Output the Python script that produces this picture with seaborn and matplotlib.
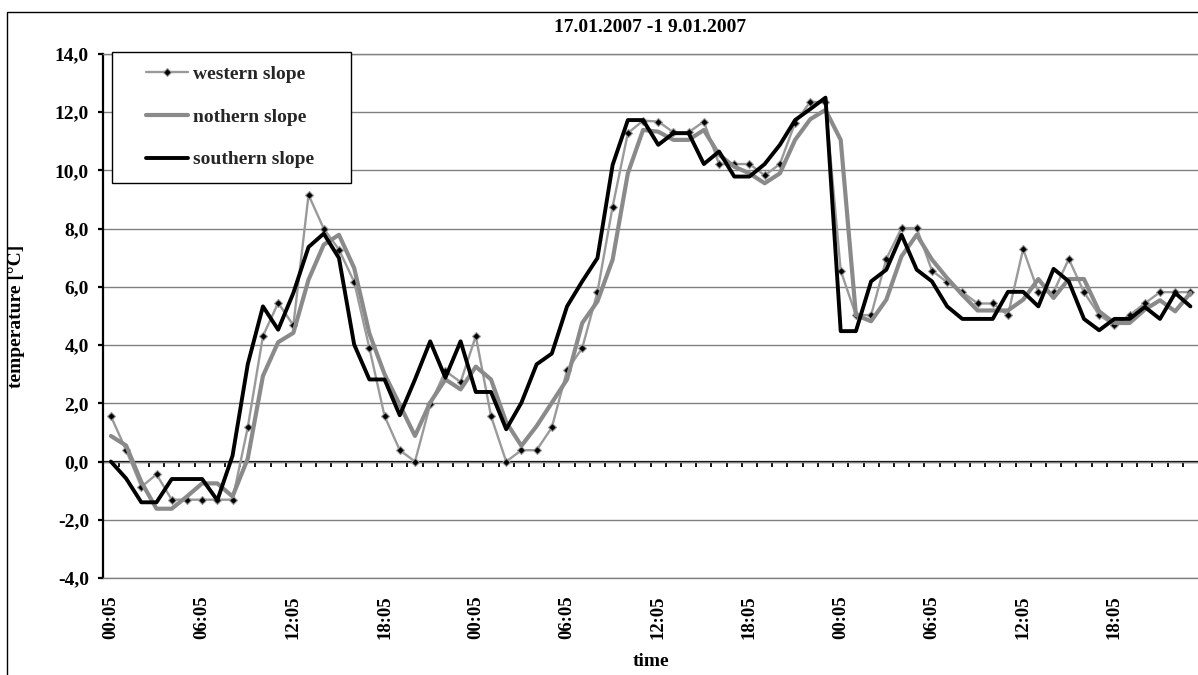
import numpy as np
import pandas as pd
import matplotlib
matplotlib.use("Agg")
import matplotlib.pyplot as plt
from matplotlib.patches import Rectangle
import seaborn as sns

# hourly readings, 00:05 on 17.01.2007 through 23:05 on 19.01.2007
hours = list(range(72))
tick_positions = list(range(0, 72, 6))
tick_labels = ["00:05", "06:05", "12:05", "18:05"] * 3
series_names = ["western slope", "nothern slope", "southern slope"]

western = [1.56, 0.39, -0.87, -0.44, -1.31, -1.31, -1.31, -1.31, -1.31, 1.17,
           4.31, 5.45, 4.68, 9.16, 8.0, 7.28, 6.17, 3.9, 1.56, 0.39,
           0.0, 1.96, 3.11, 2.73, 4.31, 1.56, 0.0, 0.39, 0.39, 1.17,
           3.13, 3.9, 5.82, 8.76, 11.28, 11.71, 11.68, 11.31, 11.31, 11.68,
           10.22, 10.22, 10.22, 9.83, 10.22, 11.64, 12.36, 12.34, 6.56, 5.03,
           5.03, 6.96, 8.02, 8.02, 6.56, 6.16, 5.82, 5.43, 5.43, 5.03,
           7.3, 5.82, 5.82, 6.96, 5.82, 5.03, 4.68, 5.03, 5.43, 5.82,
           5.82, 5.82]
northern = [0.88, 0.55, -0.7, -1.62, -1.62, -1.2, -0.75, -0.75, -1.2, 0.1,
            2.94, 4.1, 4.42, 6.25, 7.45, 7.79, 6.65, 4.4, 3.0, 1.95,
            0.88, 2.03, 2.82, 2.48, 3.26, 2.82, 1.35, 0.54, 1.22, 2.02,
            2.82, 4.76, 5.5, 6.94, 9.9, 11.39, 11.33, 11.05, 11.05, 11.39,
            10.54, 10.13, 9.9, 9.56, 9.9, 11.05, 11.76, 12.08, 11.05, 5.03,
            4.82, 5.56, 7.05, 7.79, 6.94, 6.3, 5.73, 5.19, 5.19, 5.19,
            5.56, 6.27, 5.62, 6.27, 6.27, 5.16, 4.76, 4.76, 5.22, 5.54,
            5.16, 5.79]
southern = [0.0, -0.58, -1.4, -1.4, -0.6, -0.6, -0.6, -1.33, 0.2, 3.34,
            5.33, 4.53, 5.79, 7.37, 7.83, 6.99, 4.02, 2.82, 2.82, 1.59,
            2.82, 4.13, 2.88, 4.13, 2.39, 2.39, 1.11, 2.02, 3.34, 3.71,
            5.33, 6.19, 6.99, 10.19, 11.73, 11.73, 10.88, 11.28, 11.28, 10.22,
            10.65, 9.79, 9.79, 10.22, 10.88, 11.73, 12.11, 12.5, 4.48, 4.48,
            6.19, 6.59, 7.79, 6.59, 6.19, 5.33, 4.9, 4.9, 4.9, 5.83,
            5.83, 5.33, 6.62, 6.19, 4.9, 4.51, 4.9, 4.9, 5.31, 4.9,
            5.79, 5.33]

y_ticks = [-4, -2, 0, 2, 4, 6, 8, 10, 12, 14]
title = "17.01.2007 -1 9.01.2007"
x_title = "time"
y_title = "temperature [°C]"

sns.set_theme(style="white")
plt.rcParams["font.family"] = ["Liberation Serif", "DejaVu Serif"]
plt.rcParams["font.weight"] = "bold"
plt.rcParams["axes.labelweight"] = "bold"

W, H = 1198, 675
fig = plt.figure(figsize=(W / 100, H / 100), dpi=100)
fig.patch.set_facecolor("white")

# plot area in pixels
L, R, T, B = 103.3, 1198.0, 54.0, 578.0
ax = fig.add_axes([L / W, 1 - B / H, (R - L) / W, (B - T) / H])
ax.set_facecolor("white")

df = pd.DataFrame({
    "hour": hours * 3,
    "temperature": western + northern + southern,
    "slope": [series_names[0]] * 72 + [series_names[1]] * 72 + [series_names[2]] * 72,
})

styles = {
    series_names[0]: dict(color="#9a9a9a", linewidth=1.7, marker="D", markersize=4.5,
                          markerfacecolor="black", markeredgecolor="#9a9a9a",
                          markeredgewidth=0.8),
    series_names[1]: dict(color="#8a8a8a", linewidth=3.0),
    series_names[2]: dict(color="black", linewidth=2.8),
}
for i, name in enumerate(series_names):
    sub = df[df["slope"] == name]
    sns.lineplot(data=sub, x="hour", y="temperature", ax=ax, legend=False,
                 estimator=None, sort=False, label=name, zorder=3 + i,
                 **styles[name])

ax.set_xlim(-0.5, 71.5)
ax.set_ylim(-4, 14)

# horizontal gridlines
ax.yaxis.grid(True, color="#808080", linewidth=1.0)
ax.xaxis.grid(False)
ax.set_axisbelow(True)

for side in ["top", "bottom"]:
    ax.spines[side].set_color("#808080")
    ax.spines[side].set_linewidth(1.0)
ax.spines["right"].set_visible(False)
ax.spines["left"].set_color("black")
ax.spines["left"].set_linewidth(1.6)

ax.set_yticks(y_ticks, labels=[f"{v:.1f}".replace(".", ",") for v in y_ticks])
ax.tick_params(axis="y", direction="out", length=3.8, width=1.6, pad=6.5,
               labelsize=14, colors="black", left=True)

ax.set_xticks(tick_positions, labels=tick_labels, rotation=90)
ax.tick_params(axis="x", length=0, pad=12.5, labelsize=13.5, colors="black")

# category axis crossing at 0 with hourly tick marks
zero_axis = ax.secondary_xaxis(0, transform=ax.transData)
zero_axis.set_xticks(np.arange(0.5, 71, 1))
zero_axis.tick_params(axis="x", direction="out", length=3.8, width=1.3,
                      labelbottom=False, color="black")
zero_axis.spines["bottom"].set_color("black")
zero_axis.spines["bottom"].set_linewidth(1.6)

ax.set_xlabel(x_title, fontsize=14, fontweight="bold", color="black")
ax.xaxis.set_label_coords(0.5, (B - 661) / (B - T))
ax.xaxis.label.set_verticalalignment("center")

ax.set_ylabel(y_title, fontsize=14, fontweight="bold", color="black")
ax.yaxis.set_label_coords(-(L - 17) / (R - L), 0.5)
ax.yaxis.label.set_verticalalignment("center")

fig.text(650.5 / W, 1 - 27.5 / H, title, ha="center", va="center",
         fontsize=14, fontweight="bold", color="black")

# chart border
fig.add_artist(Rectangle((6.7 / W, -0.05), 1.1, (H - 11.7) / H + 0.05,
                         transform=fig.transFigure, fill=False,
                         edgecolor="black", linewidth=1.0, zorder=2))

# legend box
fig.add_artist(Rectangle((112.3 / W, 1 - 182.7 / H), (351 - 112.3) / W,
                         (182.7 - 52.3) / H, transform=fig.transFigure,
                         facecolor="white", edgecolor="black", linewidth=1.0,
                         zorder=3))
handles, labels = ax.get_legend_handles_labels()
fig.legend(handles, labels, loc="upper left",
           bbox_to_anchor=(146.0 / W, 1 - 65.0 / H), frameon=False,
           fontsize=14, handlelength=2.15, handletextpad=0.25,
           labelspacing=1.3, borderpad=0, borderaxespad=0).set_zorder(5)

fig.savefig("out.png", dpi=100, facecolor="white")
